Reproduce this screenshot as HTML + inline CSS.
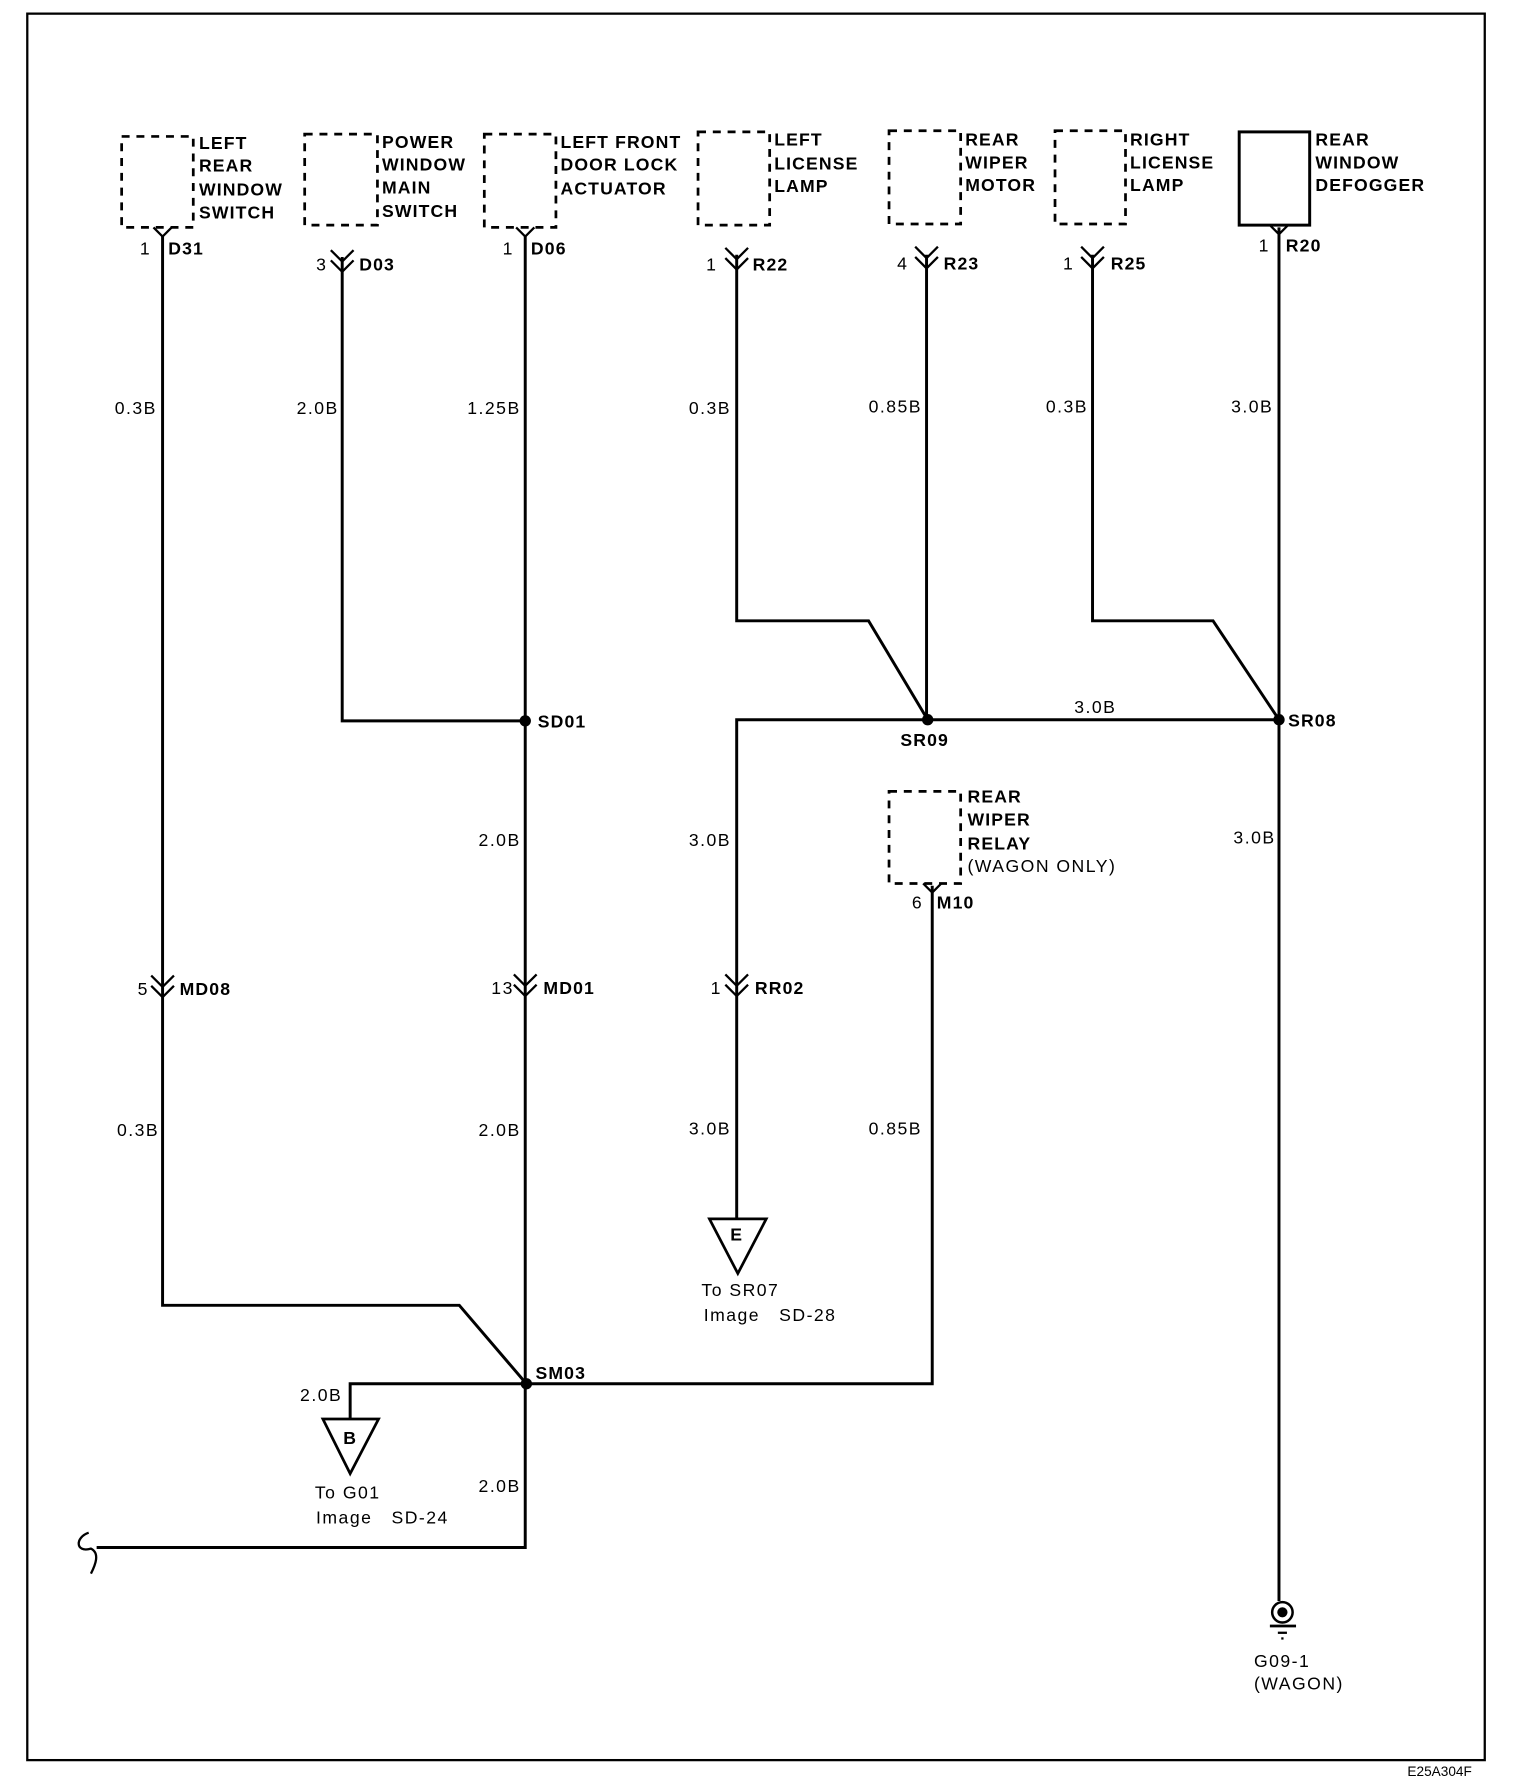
<!DOCTYPE html>
<html><head><meta charset="utf-8"><style>
html,body{margin:0;padding:0;background:#fff}
svg{display:block}
text{font-family:"Liberation Sans",Arial,sans-serif;fill:#000}
.b{font-weight:bold;font-size:15.5px;letter-spacing:1px}
.n{font-size:15.5px;letter-spacing:1.3px}
.w{fill:none;stroke:#000;stroke-width:2.6}
.d{fill:none;stroke:#000;stroke-width:2.4;stroke-dasharray:7 6}
.c{fill:none;stroke:#000;stroke-width:2}
</style></head><body>
<svg width="1520" height="1784" viewBox="0 0 1337 1569" preserveAspectRatio="none" xmlns="http://www.w3.org/2000/svg">
<rect x="24" y="12" width="1282" height="1536" fill="none" stroke="#000" stroke-width="2"/>
<text x="1238" y="1562" style="font-size:12px">E25A304F</text>

<rect class="d" x="107" y="120" width="63" height="80"/>
<rect class="d" x="268" y="118" width="64" height="80"/>
<rect class="d" x="426" y="118" width="63" height="82"/>
<rect class="d" x="614" y="116" width="63" height="82"/>
<rect class="d" x="782" y="115" width="63" height="82"/>
<rect class="d" x="928" y="115" width="62" height="82"/>
<rect x="1090" y="116" width="62" height="82" fill="none" stroke="#000" stroke-width="2.6"/>
<rect class="d" x="782" y="696" width="63" height="81"/>

<g class="b">
<text x="175" y="131">LEFT</text><text x="175" y="151">REAR</text><text x="175" y="172">WINDOW</text><text x="175" y="192">SWITCH</text>
<text x="336" y="130">POWER</text><text x="336" y="150">WINDOW</text><text x="336" y="170">MAIN</text><text x="336" y="191">SWITCH</text>
<text x="493" y="130">LEFT FRONT</text><text x="493" y="150">DOOR LOCK</text><text x="493" y="171">ACTUATOR</text>
<text x="681" y="128">LEFT</text><text x="681" y="149">LICENSE</text><text x="681" y="169">LAMP</text>
<text x="849" y="128">REAR</text><text x="849" y="148">WIPER</text><text x="849" y="168">MOTOR</text>
<text x="994" y="128">RIGHT</text><text x="994" y="148">LICENSE</text><text x="994" y="168">LAMP</text>
<text x="1157" y="128">REAR</text><text x="1157" y="148">WINDOW</text><text x="1157" y="168">DEFOGGER</text>
<text x="851" y="706">REAR</text><text x="851" y="726">WIPER</text><text x="851" y="747">RELAY</text>
</g>
<text class="n" x="851" y="767">(WAGON ONLY)</text>

<g class="b">
<text x="148" y="224">D31</text><text x="316" y="238">D03</text><text x="467" y="224">D06</text>
<text x="662" y="238">R22</text><text x="830" y="237">R23</text><text x="977" y="237">R25</text>
<text x="1131" y="221">R20</text><text x="824" y="799">M10</text>
<text x="158" y="875">MD08</text><text x="478" y="874">MD01</text><text x="664" y="874">RR02</text>
<text x="473" y="640">SD01</text><text x="792" y="656">SR09</text><text x="1133" y="639">SR08</text>
<text x="471" y="1213">SM03</text>
</g>
<g class="n" text-anchor="end">
<text x="133" y="224">1</text><text x="288" y="238">3</text><text x="452" y="224">1</text>
<text x="631" y="238">1</text><text x="799" y="237">4</text><text x="945" y="237">1</text>
<text x="1117" y="221">1</text><text x="812" y="799">6</text>
<text x="131" y="875">5</text><text x="452" y="874">13</text><text x="635" y="874">1</text>
<text x="138" y="364">0.3B</text><text x="298" y="364">2.0B</text><text x="458" y="364">1.25B</text>
<text x="643" y="364">0.3B</text><text x="811" y="363">0.85B</text><text x="957" y="363">0.3B</text><text x="1120" y="363">3.0B</text>
<text x="458" y="744">2.0B</text><text x="643" y="744">3.0B</text><text x="1122" y="742">3.0B</text><text x="982" y="627">3.0B</text>
<text x="140" y="999">0.3B</text><text x="458" y="999">2.0B</text><text x="643" y="998">3.0B</text><text x="811" y="998">0.85B</text>
<text x="301" y="1232">2.0B</text><text x="458" y="1312">2.0B</text>
</g>
<g class="n">
<text x="277" y="1318">To G01</text><text x="278" y="1340">Image &#160; SD-24</text>
<text x="617" y="1140">To SR07</text><text x="619" y="1162">Image &#160; SD-28</text>
<text x="1103" y="1466">G09-1</text><text x="1103" y="1486">(WAGON)</text>
</g>

<polyline class="w" points="143,208 143,1148 404,1148 463,1217"/>
<polyline class="w" points="301,226 301,634 462,634"/>
<polyline class="w" points="462,208 462,1361 85,1361"/>
<polyline class="w" points="463,1217 820,1217 820,779"/>
<polyline class="w" points="463,1217 308,1217 308,1248"/>
<polyline class="w" points="648,224 648,546 764,546 816,633"/>
<polyline class="w" points="815,224 815,633"/>
<polyline class="w" points="648,1072 648,633 1125,633"/>
<polyline class="w" points="961,224 961,546 1067,546 1125,633"/>
<polyline class="w" points="1125,200 1125,1408"/>
<path class="c" d="M78,1348 C66,1352 66,1366 80,1362 C88,1366 84,1376 80,1384"/>

<polyline class="c" points="135,200 143,208 151,200"/>
<polyline class="c" points="454,200 462,208 470,200"/>
<polyline class="c" points="1117,198 1125,206 1133,198"/>
<polyline class="c" points="812,777 820,785 828,777"/>
<g class="c" stroke-width="2.2">
<polyline points="291,220 301,230 311,220"/><polyline points="291,229 301,239 311,229"/>
<polyline points="638,218 648,228 658,218"/><polyline points="638,227 648,237 658,227"/>
<polyline points="805,217 815,227 825,217"/><polyline points="805,226 815,236 825,226"/>
<polyline points="951,217 961,227 971,217"/><polyline points="951,226 961,236 971,226"/>
<polyline points="133,858 143,868 153,858"/><polyline points="133,867 143,877 153,867"/>
<polyline points="452,857 462,867 472,857"/><polyline points="452,866 462,876 472,866"/>
<polyline points="638,857 648,867 658,857"/><polyline points="638,866 648,876 658,866"/>
</g>

<circle cx="462" cy="634" r="5"/><circle cx="816" cy="633" r="5"/><circle cx="1125" cy="633" r="5"/><circle cx="463" cy="1217" r="5"/>

<polygon points="284,1248 333,1248 308,1296" fill="#fff" stroke="#000" stroke-width="2.4"/>
<text class="b" x="308" y="1270" text-anchor="middle">B</text>
<polygon points="624,1072 674,1072 649,1120" fill="#fff" stroke="#000" stroke-width="2.4"/>
<text class="b" x="648" y="1091" text-anchor="middle">E</text>

<circle cx="1128" cy="1418" r="9" fill="#fff" stroke="#000" stroke-width="2.2"/>
<circle cx="1128" cy="1418" r="4.5"/>
<line x1="1117" y1="1430" x2="1140" y2="1430" stroke="#000" stroke-width="2.4"/>
<line x1="1124" y1="1436" x2="1132" y2="1436" stroke="#000" stroke-width="2"/>
<line x1="1127" y1="1441" x2="1129" y2="1441" stroke="#000" stroke-width="2"/>
</svg>
</body></html>
